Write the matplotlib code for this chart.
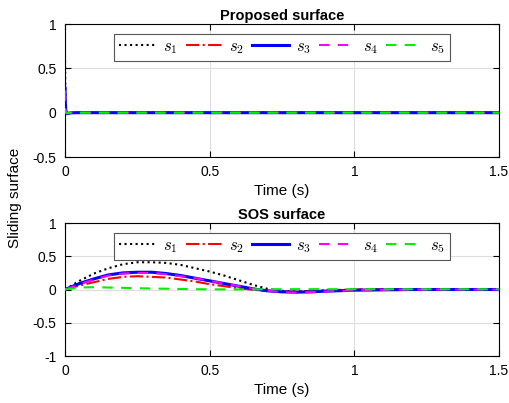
import matplotlib
matplotlib.use('Agg')
from matplotlib import pyplot as plt
import numpy as np

plt.rcParams['font.family'] = ['Liberation Sans', 'DejaVu Sans']
plt.rcParams['mathtext.fontset'] = 'cm'
plt.rcParams['axes.unicode_minus'] = False

# Proposed surface (fast transient near t=0)
t_prop = [0, 0.001, 0.003, 0.006, 0.01, 0.02, 0.04, 0.1, 0.5, 1.0, 1.5]
p1 = [0.65, 0.30, 0.05, -0.01, -0.008, -0.002, 0, 0, 0, 0, 0]
p2 = [0.12, 0.05, 0.0, -0.008, -0.005, 0, 0, 0, 0, 0, 0]
p3 = [0.28, 0.12, 0.02, -0.012, -0.008, -0.002, 0, 0, 0, 0, 0]
p4 = [0.25, 0.10, 0.02, -0.01, -0.006, 0, 0, 0, 0, 0, 0]
p5 = [0.05, 0.02, 0.0, -0.004, -0.002, 0, 0, 0, 0, 0, 0]

# SOS surface
t_sos = [0, 0.05, 0.1, 0.15, 0.2, 0.25, 0.3, 0.35, 0.4, 0.45, 0.5, 0.55, 0.6,
         0.65, 0.7, 0.75, 0.8, 0.85, 0.9, 1.0, 1.1, 1.2, 1.3, 1.4, 1.5]
s1 = [0, 0.13, 0.24, 0.32, 0.38, 0.41, 0.41, 0.40, 0.37, 0.32, 0.27, 0.21, 0.14,
      0.07, 0.01, -0.02, -0.03, -0.025, -0.015, -0.005, 0, 0, 0, 0, 0]
s2 = [0, 0.06, 0.11, 0.16, 0.19, 0.20, 0.19, 0.18, 0.15, 0.12, 0.08, 0.05, 0.02,
      -0.005, -0.02, -0.03, -0.03, -0.02, -0.01, 0.0, 0.003, 0.004, 0.004, 0.004, 0.004]
s3 = [0, 0.09, 0.16, 0.22, 0.25, 0.26, 0.26, 0.24, 0.21, 0.17, 0.13, 0.09, 0.05,
      0.01, -0.02, -0.035, -0.04, -0.035, -0.025, -0.01, -0.005, 0, 0, 0, 0]
s4 = [0, 0.08, 0.15, 0.21, 0.24, 0.25, 0.25, 0.23, 0.20, 0.17, 0.13, 0.09, 0.05,
      0.01, -0.02, -0.04, -0.045, -0.04, -0.03, -0.012, -0.005, 0, 0, 0, 0]
s5 = [0, 0.03, 0.035, 0.03, 0.025, 0.02, 0.015, 0.012, 0.008, 0.005, 0.003, 0.002, 0.001,
      0.002, 0.004, 0.005, 0.005, 0.005, 0.005, 0.004, 0.004, 0.004, 0.004, 0.004, 0.004]

labels = ['$s_1$', '$s_2$', '$s_3$', '$s_4$', '$s_5$']
styles = [dict(color='black', ls=':', lw=1.5),
          dict(color='red', ls='-.', lw=1.5),
          dict(color='blue', ls='-', lw=2.2),
          dict(color='magenta', ls=(0, (5, 4)), lw=1.5),
          dict(color='#00ee00', ls=(0, (5, 4)), lw=1.5)]

fig = plt.figure(figsize=(5.09, 4.03), dpi=100)
ax1 = fig.add_axes([0.1277, 0.6104, 0.8527, 0.33])
ax2 = fig.add_axes([0.1277, 0.1166, 0.8527, 0.33])

for ax, t, ys, title, ylim, yt in [
        (ax1, t_prop, [p1, p2, p3, p4, p5], 'Proposed surface', (-0.5, 1), [-0.5, 0, 0.5, 1]),
        (ax2, t_sos, [s1, s2, s3, s4, s5], 'SOS surface', (-1, 1), [-1, -0.5, 0, 0.5, 1])]:
    for y, lab, st in zip(ys, labels, styles):
        ax.plot(t, y, label=lab, zorder=3, **st)
    ax.set_xlim(0, 1.5)
    ax.set_ylim(*ylim)
    ax.set_xticks([0, 0.5, 1, 1.5])
    ax.set_xticklabels(['0', '0.5', '1', '1.5'])
    ax.set_yticks(yt)
    ax.set_yticklabels([('%g' % v) for v in yt])
    ax.grid(True, color='#dddddd', lw=0.8)
    ax.set_axisbelow(True)
    ax.tick_params(direction='in', top=True, right=True, labelsize=10, length=4, pad=6)
    ax.set_title(title, fontsize=10.5, fontweight='bold', pad=3)
    ax.set_xlabel('Time (s)', fontsize=11, labelpad=3)
    leg = ax.legend(loc='upper center', ncol=5, fontsize=12, fancybox=False,
                    framealpha=1, edgecolor='#555555', handlelength=2.2,
                    columnspacing=0.5, handletextpad=0.4, borderpad=0.3,
                    bbox_to_anchor=(0.5, 0.99))
    leg.set_zorder(5)
    leg.get_frame().set_linewidth(0.8)

fig.text(0.03, 0.508, 'Sliding surface', rotation=90, fontsize=11, ha='center', va='center')

fig.savefig('out.png', dpi=100)
